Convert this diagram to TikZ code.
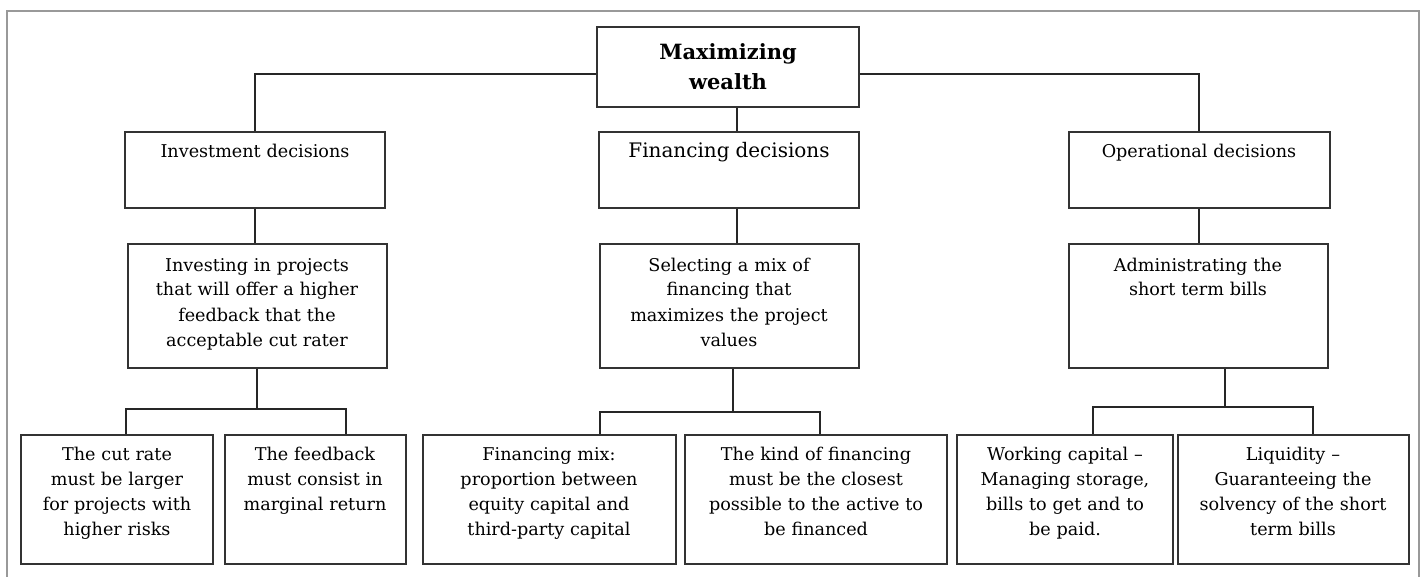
\documentclass[tikz,border=0pt]{standalone}
\usepackage{fontspec}
\setmainfont{DejaVu Serif}
\begin{document}
\begin{tikzpicture}
[x=0.5pt,y=-0.5pt,
  boxdecorate/.style={shape=rectangle,draw=black!80,line width=1pt,anchor=north,%
    align=center,inner xsep=0pt,inner ysep=0pt,font=\fontsize{8.8}{12.5}\selectfont},
  linedecorate/.style={-,line width=0.9pt,draw=black!85}]
\useasboundingbox (0,0) rectangle (1424,577);
%% outer frame
\draw[gray!80,line width=1pt] (7,577) -- (7,11) -- (1419,11) -- (1419,577);
%% top node
\node (wealth) at (728,26) [boxdecorate,text width=131pt,minimum height=40pt,%
  font=\fontsize{10.5}{15}\bfseries] {Maximizing\\wealth};
%% decisions
\foreach \nodename/\x/\w/\txt in {invdec/255/130pt/{Investment decisions},
    findec/729/130pt/{\fontsize{10}{12.5}\selectfont Financing decisions},
    opdec/1199/130.5pt/{Operational decisions}} {
  \node (\nodename) at (\x,131) [boxdecorate,text width=\w,text height=13pt,text depth=25pt] {\txt};
}
%% goals
\foreach \nodename/\x/\w/\txt in {invproj/257/129.5pt/{Investing in projects\\that will offer a higher\\feedback that the\\acceptable cut rater},
    selmix/729/129.5pt/{Selecting a mix of\\financing that\\maximizes the project\\values},
    adminbills/1198/129.5pt/{Administrating the\\short term bills}} {
  \node (\nodename) at (\x,243) [boxdecorate,text width=\w,text height=13.5pt,text depth=48.5pt] {\txt};
}
%% rules
\foreach \nodename/\x/\w/\txt in {cutrate/117/96pt/{The cut rate\\must be larger\\for projects with\\higher risks},
    feedback/315/90.5pt/{The feedback\\must consist in\\marginal return},
    finmix/549/126.5pt/{Financing mix:\\proportion between\\equity capital and\\third-party capital},
    kindfin/816/131pt/{The kind of financing\\must be the closest\\possible to the active to\\be financed},
    workcap/1065/108pt/{Working capital –\\Managing storage,\\bills to get and to\\be paid.},
    liquid/1293/115.5pt/{Liquidity –\\Guaranteeing the\\solvency of the short\\term bills}} {
  \node (\nodename) at (\x,434) [boxdecorate,text width=\w,text height=12.5pt,text depth=52pt] {\txt};
}
%% edges or lines
\draw[linedecorate] ([yshift=-3.5pt]wealth.west) -| (invdec.north);
\draw[linedecorate] ([yshift=-3.5pt]wealth.east) -| (opdec.north);
\draw[linedecorate] ([xshift=4.5pt]wealth.south) -- ([xshift=4.5pt]wealth.south |- findec.north);
\draw[linedecorate] ([xshift=4pt]findec.south) -- ([xshift=4pt]findec.south |- selmix.north);
\path
\foreach \startnode/\endnode in {invdec/invproj, opdec/adminbills} {
  (\startnode.south) edge[linedecorate] (\startnode.south |- \endnode.north)
};
%% brackets
\draw[linedecorate] (invproj.south) |- (126,409) -- (126,0 |- cutrate.north);
\draw[linedecorate] (invproj.south) |- (346,409) -- (346,0 |- feedback.north);
\draw[linedecorate] (733,0 |- selmix.south) |- (600,412) -- (600,0 |- finmix.north);
\draw[linedecorate] (733,0 |- selmix.south) |- (820,412) -- (820,0 |- kindfin.north);
\draw[linedecorate] (1225,0 |- adminbills.south) |- (1093,407) -- (1093,0 |- workcap.north);
\draw[linedecorate] (1225,0 |- adminbills.south) |- (1313,407) -- (1313,0 |- liquid.north);
\end{tikzpicture}
\end{document}
